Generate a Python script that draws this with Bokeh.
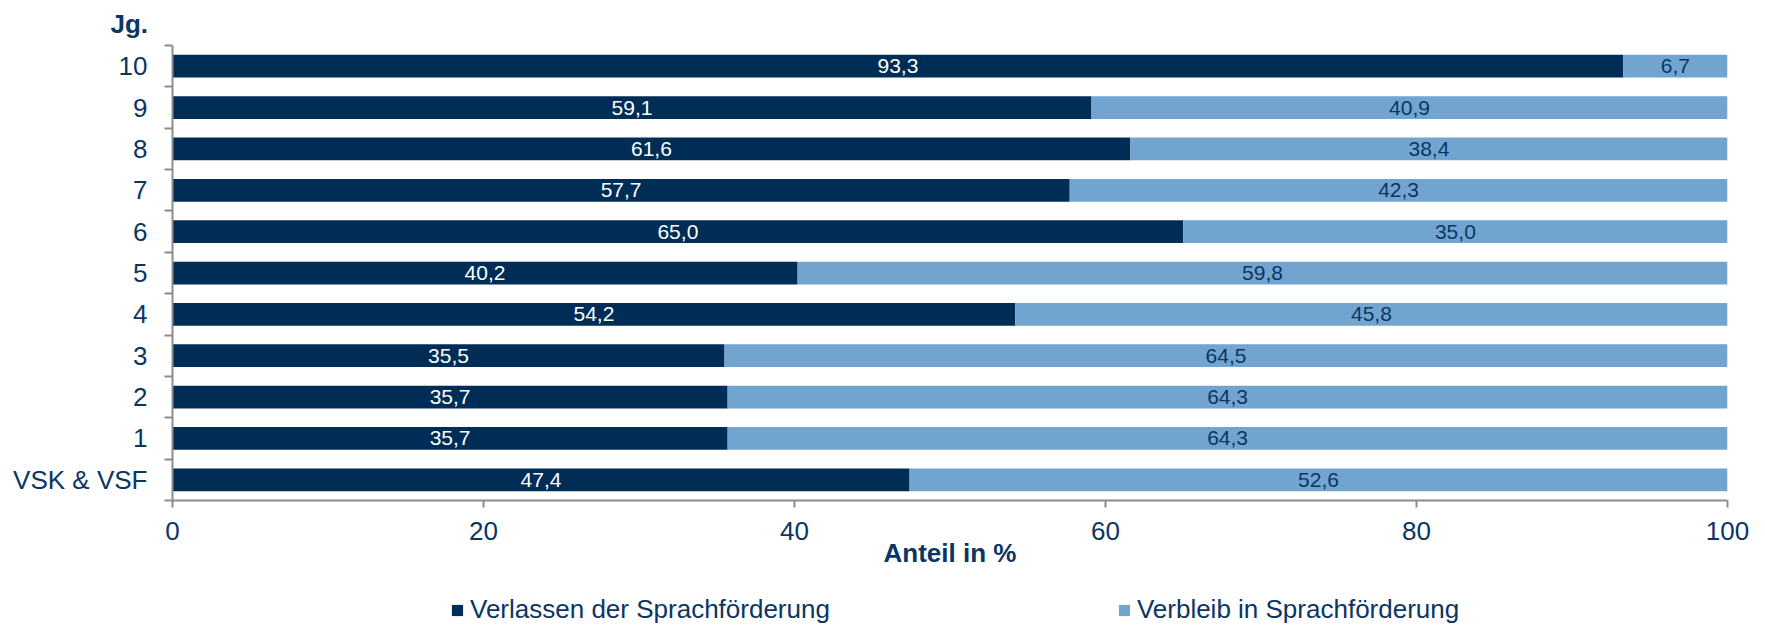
from bokeh.plotting import figure
from bokeh.layouts import column
from bokeh.models import (ColumnDataSource, FixedTicker, Legend, LegendItem, LabelSet, Range1d, Title)
from bokeh.embed import file_html
from bokeh.resources import INLINE
from bokeh.core.properties import value

categories = ["VSK & VSF", "1", "2", "3", "4", "5", "6", "7", "8", "9", "10"]
verlassen = [47.4, 35.7, 35.7, 35.5, 54.2, 40.2, 65.0, 57.7, 61.6, 59.1, 93.3]
verbleib = [52.6, 64.3, 64.3, 64.5, 45.8, 59.8, 35.0, 42.3, 38.4, 40.9, 6.7]
series_names = ["Verlassen der Sprachförderung", "Verbleib in Sprachförderung"]
x_ticks = [0, 20, 40, 60, 80, 100]

DARK = "#002D55"
LIGHT = "#71A5D0"
TEXT = "#0B3563"
AXIS = "#8C8C8C"
FONT = "Liberation Sans"

W = 1765
p = figure(width=W, height=575, output_backend="svg", toolbar_location=None,
           x_range=Range1d(0, 100), y_range=Range1d(-0.5, len(categories) - 0.5),
           min_border_left=172, min_border_right=38, min_border_top=44, min_border_bottom=75)
p.outline_line_color = None
p.grid.grid_line_color = None
p.background_fill_color = "white"

p.title = Title(text="Jg.", align="left", offset=-62, text_font=FONT, text_font_size="26px",
                text_font_style="bold", text_color=TEXT, standoff=13)

ypos = list(range(len(categories)))
fmt = lambda v: f"{v:.1f}".replace(".", ",")
src = ColumnDataSource(dict(
    y=ypos, a=verlassen, b=verbleib,
    a_end=verlassen, b_end=[a + b for a, b in zip(verlassen, verbleib)],
    a_mid=[a / 2 for a in verlassen],
    b_mid=[a + b / 2 for a, b in zip(verlassen, verbleib)],
    a_lab=[fmt(v) for v in verlassen], b_lab=[fmt(v) for v in verbleib],
))

r1 = p.hbar(y="y", left=0, right="a_end", height=0.55, source=src, fill_color=DARK, line_color=None)
r2 = p.hbar(y="y", left="a_end", right="b_end", height=0.55, source=src, fill_color=LIGHT, line_color=None)

p.add_layout(LabelSet(x="a_mid", y="y", text="a_lab", source=src, text_align="center",
                      text_baseline="middle", text_color="white", text_font=value(FONT),
                      text_font_size="21px"))
p.add_layout(LabelSet(x="b_mid", y="y", text="b_lab", source=src, text_align="center",
                      text_baseline="middle", text_color=TEXT, text_font=value(FONT),
                      text_font_size="21px"))

# y axis
ya = p.yaxis[0]
ya.ticker = FixedTicker(ticks=ypos, minor_ticks=[i - 0.5 for i in range(len(categories) + 1)])
ya.major_label_overrides = {i: c for i, c in enumerate(categories)}
ya.major_tick_line_color = None
ya.major_tick_out = 0
ya.major_tick_in = 0
ya.minor_tick_line_color = AXIS
ya.minor_tick_out = 8
ya.minor_tick_in = 0
ya.minor_tick_line_width = 2
ya.axis_line_color = AXIS
ya.axis_line_width = 2
ya.major_label_standoff = 17
ya.major_label_text_font = FONT
ya.major_label_text_font_size = "26px"
ya.major_label_text_color = TEXT

# x axis
xa = p.xaxis[0]
xa.ticker = FixedTicker(ticks=x_ticks, minor_ticks=[])
xa.major_tick_line_color = AXIS
xa.major_tick_line_width = 2
xa.major_tick_out = 7
xa.major_tick_in = 0
xa.axis_line_color = AXIS
xa.axis_line_width = 2
xa.major_label_standoff = 14
xa.major_label_text_font = FONT
xa.major_label_text_font_size = "26px"
xa.major_label_text_color = TEXT
xa.axis_label = "Anteil in %"
xa.axis_label_text_font = FONT
xa.axis_label_text_font_size = "26px"
xa.axis_label_text_font_style = "bold"
xa.axis_label_text_color = TEXT
xa.axis_label_standoff = -5

# legend in its own strip below the chart (frame aligned with the chart's frame)
lg = figure(width=W, height=50, output_backend="svg", toolbar_location=None,
            x_axis_type=None, y_axis_type=None, x_range=Range1d(0, 1), y_range=Range1d(0, 1),
            min_border_left=0, min_border_right=0, min_border_top=0, min_border_bottom=0)
lg.outline_line_color = None
lg.grid.grid_line_color = None
lg.border_fill_color = "white"
# swatch renderers: their single bar lies well outside the visible range
d1 = lg.hbar(y=[-50], left=[50], right=[51], height=0.5, fill_color=DARK, line_color=None)
d2 = lg.hbar(y=[-50], left=[50], right=[51], height=0.5, fill_color=LIGHT, line_color=None)

legend = Legend(items=[LegendItem(label=series_names[0], renderers=[d1]),
                       LegendItem(label=series_names[1], renderers=[d2])],
                orientation="horizontal", location=(278, 0),
                border_line_color=None, background_fill_alpha=0,
                glyph_width=14, glyph_height=14, label_standoff=6, spacing=287,
                label_text_font=FONT, label_text_font_size="26px", label_text_color=TEXT,
                padding=0, margin=0)
lg.add_layout(legend, "center")

open("out.html", "w").write(file_html(column(p, lg, spacing=0), INLINE))
